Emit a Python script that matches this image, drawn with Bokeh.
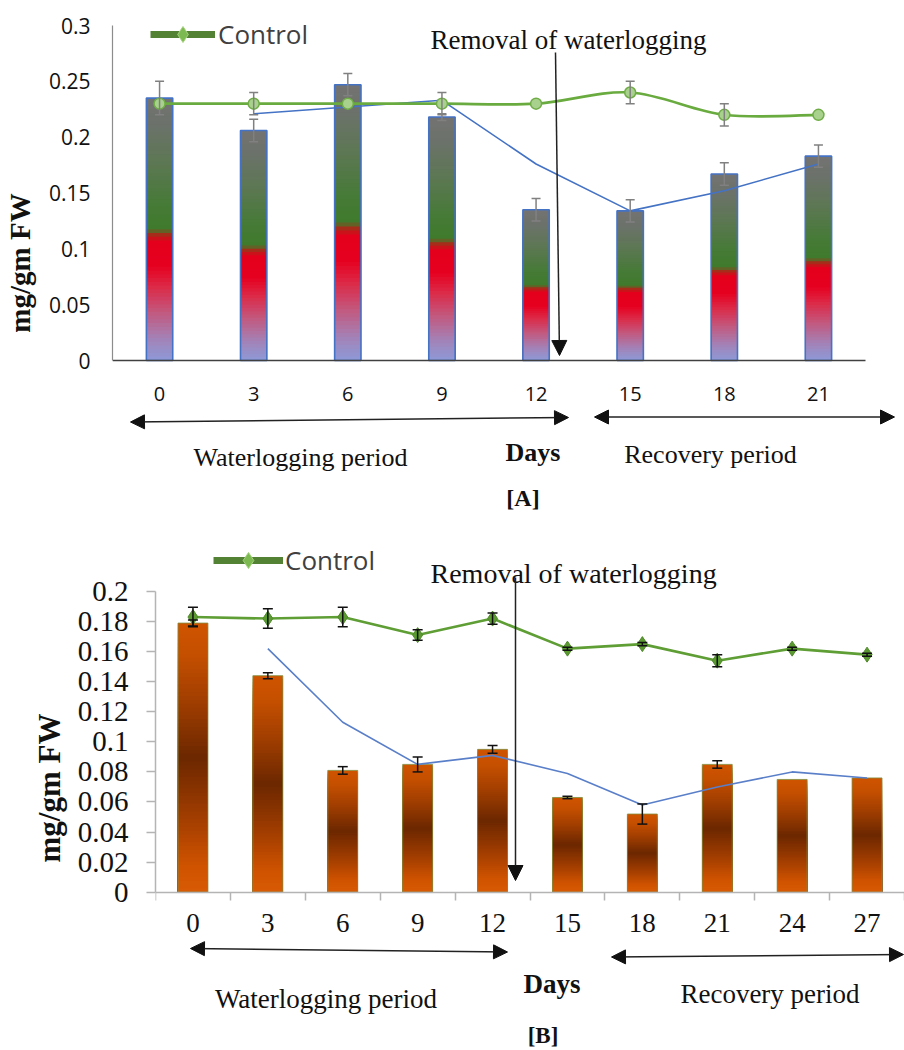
from bokeh.plotting import figure
from bokeh.models import (Range1d, FixedTicker, Label, Arrow, NormalHead, TeeHead, Whisker,
                          ColumnDataSource, Legend, LegendItem)
from bokeh.embed import file_html
from bokeh.resources import INLINE

# ---------------- Panel A data ----------------
days_a = ["0", "3", "6", "9", "12", "15", "18", "21"]
waterlogged_a = [0.235, 0.206, 0.247, 0.218, 0.135, 0.134, 0.167, 0.183]
waterlogged_a_err = [0.015, 0.010, 0.010, 0.003, 0.010, 0.010, 0.010, 0.010]
control_a = [0.230, 0.230, 0.230, 0.230, 0.230, 0.240, 0.220, 0.220]
control_a_err = [0.0, 0.010, 0.0, 0.010, 0.0, 0.010, 0.010, 0.0]
trend_a = [None, 0.221, 0.227, 0.233, 0.176, 0.134, 0.152, 0.176]
yticks_a = [0, 0.05, 0.1, 0.15, 0.2, 0.25, 0.3]
ytick_labels_a = ["0", "0.05", "0.1", "0.15", "0.2", "0.25", "0.3"]

# ---------------- Panel B data ----------------
days_b = ["0", "3", "6", "9", "12", "15", "18", "21", "24", "27"]
waterlogged_b = [0.179, 0.144, 0.081, 0.085, 0.095, 0.063, 0.052, 0.085, 0.075, 0.076]
waterlogged_b_err = [0.002, 0.002, 0.0025, 0.005, 0.0025, 0.0008, 0.0067, 0.0025, 0.0, 0.0]
control_b = [0.183, 0.182, 0.183, 0.171, 0.182, 0.162, 0.165, 0.154, 0.162, 0.158]
control_b_err = [0.0065, 0.0065, 0.0065, 0.0035, 0.0037, 0.001, 0.001, 0.004, 0.001, 0.001]
trend_b = [None, 0.162, 0.113, 0.085, 0.091, 0.079, 0.058, 0.070, 0.080, 0.076]
yticks_b = [0, 0.02, 0.04, 0.06, 0.08, 0.1, 0.12, 0.14, 0.16, 0.18, 0.2]
ytick_labels_b = ["0", "0.02", "0.04", "0.06", "0.08", "0.1", "0.12", "0.14", "0.16", "0.18", "0.2"]

SERIF = "Liberation Serif"
SANS = "Open Sans"
INK = "#111111"
NAN = float("nan")


def hex2rgb(h):
    return tuple(int(h[i:i + 2], 16) for i in (1, 3, 5))


def grad_color(stops, f):
    for (f0, c0), (f1, c1) in zip(stops, stops[1:]):
        if f <= f1:
            t = (f - f0) / (f1 - f0) if f1 > f0 else 0.0
            a, b = hex2rgb(c0), hex2rgb(c1)
            return "#%02x%02x%02x" % tuple(round(a[i] + (b[i] - a[i]) * t) for i in range(3))
    return stops[-1][1]


def gradient_bars(p, xs, vals, width, stops, n=70):
    # overlapping bars drawn from tallest fraction down -> seamless vertical gradient
    x, top, color = [], [], []
    for k in range(n - 1, -1, -1):
        f1 = (k + 1) / n
        for xi, v in zip(xs, vals):
            x.append(xi)
            top.append(v * f1)
            color.append(grad_color(stops, (k + 0.5) / n))
    p.vbar(x=x, bottom=0, top=top, width=width, fill_color=color, line_color=None)


def smooth_curve(xs, ys):
    d = dict(x0=[], y0=[], x1=[], y1=[], cx0=[], cy0=[], cx1=[], cy1=[])
    n = len(xs)
    for i in range(n - 1):
        xp, yp = (xs[i - 1], ys[i - 1]) if i > 0 else (xs[i], ys[i])
        xq, yq = (xs[i + 2], ys[i + 2]) if i + 2 < n else (xs[i + 1], ys[i + 1])
        d["x0"].append(xs[i]); d["y0"].append(ys[i])
        d["x1"].append(xs[i + 1]); d["y1"].append(ys[i + 1])
        d["cx0"].append(xs[i] + (xs[i + 1] - xp) / 6)
        d["cy0"].append(ys[i] + (ys[i + 1] - yp) / 6)
        d["cx1"].append(xs[i + 1] - (xq - xs[i]) / 6)
        d["cy1"].append(ys[i + 1] - (yq - ys[i]) / 6)
    return d


def whiskers(p, xs, vals, errs, color, head):
    pts = [(x, v, e) for x, v, e in zip(xs, vals, errs) if e > 0]
    src = ColumnDataSource(dict(x=[q[0] for q in pts],
                                upper=[q[1] + q[2] for q in pts],
                                lower=[q[1] - q[2] for q in pts]))
    w = Whisker(source=src, base="x", upper="upper", lower="lower", dimension="height",
                line_color=color, line_width=1.5, level="overlay",
                upper_head=TeeHead(size=head, line_color=color, line_width=1.5),
                lower_head=TeeHead(size=head, line_color=color, line_width=1.5))
    p.add_layout(w)


def text(p, s, x, y, size, fl, fb, bold=False, font=SERIF, align="center",
         baseline="middle"):
    p.add_layout(Label(x=x - fl, y=fb - y, x_units="screen", y_units="screen", text=s,
                       text_font=font, text_font_size=f"{size}px",
                       text_font_style="bold" if bold else "normal",
                       text_color=INK, text_align=align, text_baseline=baseline))


def head(size):
    return NormalHead(size=size, fill_color=INK, line_color=INK, line_width=1)


def arrow(p, x0, y0, x1, y1, fl, fb, both=False, size=14):
    p.add_layout(Arrow(x_start=x0 - fl, y_start=fb - y0, x_end=x1 - fl, y_end=fb - y1,
                       start_units="screen", end_units="screen",
                       start=head(size) if both else None, end=head(size),
                       line_color="#222222", line_width=1.5))


def legend(p, xs, loc, glyph_w, standoff):
    # legend-only renderers: real x positions, no visible y values
    blank = [NAN] * len(xs)
    ln = p.line(xs, blank, line_color="#548235", line_width=7)
    mk = p.scatter(xs, blank, marker="diamond", size=18, fill_color="#7cb950",
                   line_color="#a5d27f", line_width=1)
    p.add_layout(Legend(items=[LegendItem(label="Control", renderers=[ln, mk])],
                        location=loc, glyph_width=glyph_w, glyph_height=40,
                        label_standoff=standoff, padding=0, margin=0,
                        border_line_color=None, background_fill_alpha=0,
                        label_text_font=SANS, label_text_font_size="26px",
                        label_text_color="#404040"))


def style_common(p):
    p.grid.visible = False
    p.outline_line_color = None


# =============== Panel A =================
A_W, A_H = 904, 525
A_LEFT = 112               # y-axis position
A_ZERO, A_TOP = 360, 25    # pixel rows of y=0 and y=yticks_a[-1]
A_RIGHT = 865              # end of category axis
xa = list(range(len(days_a)))
a_cat = (A_RIGHT - A_LEFT) / len(days_a)
a_ppu = (A_ZERO - A_TOP) / yticks_a[-1]
pa = figure(width=A_W, height=A_H,
            x_range=Range1d(-0.5, -0.5 + (A_W - A_LEFT) / a_cat),
            y_range=Range1d(-(A_H - A_ZERO) / a_ppu, yticks_a[-1] + A_TOP / a_ppu),
            output_backend="svg", toolbar_location=None,
            min_border_left=A_LEFT, min_border_right=0, min_border_top=0,
            min_border_bottom=0)
style_common(pa)

stops_a = [(0.0, "#8d9ad8"), (0.08, "#a283b8"), (0.18, "#c25a80"), (0.28, "#dc2a48"),
           (0.36, "#e60020"), (0.45, "#e4001c"), (0.475, "#b82018"), (0.50, "#3f7b2c"),
           (0.60, "#477a38"), (0.75, "#5c7753"), (0.90, "#6c726a"), (1.0, "#737373")]
gradient_bars(pa, xa, waterlogged_a, 0.28, stops_a)
pa.vbar(x=xa, top=waterlogged_a, width=0.28, fill_color=None, line_color="#4472c4",
        line_width=1.6)
whiskers(pa, xa, waterlogged_a, waterlogged_a_err, "#808080", 9)

ta = [(x, v) for x, v in zip(xa, trend_a) if v is not None]
pa.line([q[0] for q in ta], [q[1] for q in ta], line_color="#4472c4", line_width=1.6)

pa.bezier(source=ColumnDataSource(smooth_curve(xa, control_a)), x0="x0", y0="y0", x1="x1",
          y1="y1", cx0="cx0", cy0="cy0", cx1="cx1", cy1="cy1",
          line_color="#6aab3f", line_width=2.6)
whiskers(pa, xa, control_a, control_a_err, "#808080", 9)
pa.scatter(xa, control_a, marker="circle", size=11, fill_color="#a9d18e",
           line_color="#70ad47", line_width=1.5)

legend(pa, xa, (38, 471), 65, 3)

pa.xaxis.fixed_location = 0
pa.xaxis.bounds = (-0.5, len(days_a) - 0.5)
pa.xaxis.ticker = FixedTicker(ticks=xa)
pa.xaxis.major_label_overrides = {i: d for i, d in zip(xa, days_a)}
pa.xaxis.axis_line_color = "#404040"
pa.xaxis.axis_line_width = 1.6
pa.xaxis.major_tick_line_color = None
pa.xaxis.minor_tick_line_color = None
pa.xaxis.major_tick_out = 0
pa.xaxis.major_label_standoff = 26
pa.xaxis.major_label_text_font = SANS
pa.xaxis.major_label_text_font_size = "20px"
pa.xaxis.major_label_text_color = INK

pa.yaxis.bounds = (yticks_a[0], yticks_a[-1])
pa.yaxis.ticker = FixedTicker(ticks=yticks_a)
pa.yaxis.major_label_overrides = {v: s for v, s in zip(yticks_a, ytick_labels_a)}
pa.yaxis.axis_line_color = "#8c8c8c"
pa.yaxis.axis_line_width = 1.2
pa.yaxis.major_tick_line_color = None
pa.yaxis.minor_tick_line_color = None
pa.yaxis.major_tick_out = 0
pa.yaxis.major_label_standoff = 22
pa.yaxis.major_label_text_font = SANS
pa.yaxis.major_label_text_font_size = "21px"
pa.yaxis.major_label_text_color = INK
pa.yaxis.axis_label = "mg/gm FW"
pa.yaxis.axis_label_text_font = SERIF
pa.yaxis.axis_label_text_font_style = "bold"
pa.yaxis.axis_label_text_font_size = "29px"
pa.yaxis.axis_label_text_color = INK
pa.yaxis.axis_label_standoff = 10

FA = dict(fl=A_LEFT, fb=A_H)
text(pa, "Removal of waterlogging", 430, 39.5, 27, align="left", baseline="alphabetic", **FA)
arrow(pa, 555, 52, 559, 355, size=15, **FA)
arrow(pa, 130, 421.5, 568, 417, both=True, **FA)
arrow(pa, 594, 416.5, 894, 416.5, both=True, **FA)
text(pa, "Days", 532.5, 451.5, 26, bold=True, baseline="alphabetic", **FA)
text(pa, "Waterlogging period", 300, 456.5, 26, **FA)
text(pa, "Recovery period", 710, 454, 26, **FA)
text(pa, "[A]", 522.5, 497, 24, bold=True, **FA)

# =============== Panel B =================
B_W, B_H = 904, 525
B_LEFT = 155
B_ZERO, B_TOP = 366.7, 66   # rows (inside this figure) of y=0 and y=yticks_b[-1]
xb = list(range(len(days_b)))
b_cat = (B_W - B_LEFT) / len(days_b)
b_ppu = (B_ZERO - B_TOP) / yticks_b[-1]
pb = figure(width=B_W, height=B_H,
            x_range=Range1d(-0.5, -0.5 + (B_W - B_LEFT) / b_cat),
            y_range=Range1d(-(B_H - B_ZERO) / b_ppu, yticks_b[-1] + B_TOP / b_ppu),
            output_backend="svg", toolbar_location=None,
            min_border_left=B_LEFT, min_border_right=0, min_border_top=0,
            min_border_bottom=0)
style_common(pb)

stops_b = [(0.0, "#d85a04"), (0.1, "#cf5300"), (0.25, "#a84000"), (0.5, "#6c2700"),
           (0.7, "#9e3d00"), (0.88, "#c44f00"), (1.0, "#d05400")]
gradient_bars(pb, xb, waterlogged_b, 0.4, stops_b)
pb.vbar(x=xb, top=waterlogged_b, width=0.4, fill_color=None, line_color="#7f8f3f",
        line_width=1, line_alpha=0.8)
whiskers(pb, xb, waterlogged_b, waterlogged_b_err, INK, 10)

tb = [(x, v) for x, v in zip(xb, trend_b) if v is not None]
pb.line([q[0] for q in tb], [q[1] for q in tb], line_color="#5a7fc9", line_width=1.6)

pb.line(xb, control_b, line_color="#5e9e34", line_width=2.6)
whiskers(pb, xb, control_b, control_b_err, INK, 10)
pb.scatter(xb, control_b, marker="diamond", size=15, fill_color="#5a9a30",
           line_color="#4f8a2a", line_width=1)

legend(pb, xb, (58, 470), 70, 2)

pb.xaxis.fixed_location = 0
pb.xaxis.bounds = (-0.5, len(days_b) - 0.5)
pb.xaxis.ticker = FixedTicker(ticks=xb, minor_ticks=[x - 0.5 for x in xb] + [xb[-1] + 0.5])
pb.xaxis.major_label_overrides = {i: d for i, d in zip(xb, days_b)}
pb.xaxis.axis_line_color = "#b4b4b4"
pb.xaxis.axis_line_width = 1.5
pb.xaxis.major_tick_line_color = None
pb.xaxis.major_tick_out = 8
pb.xaxis.minor_tick_line_color = "#b4b4b4"
pb.xaxis.minor_tick_line_width = 1.5
pb.xaxis.minor_tick_out = 8
pb.xaxis.minor_tick_in = 0
pb.xaxis.major_label_standoff = 14
pb.xaxis.major_label_text_font = SERIF
pb.xaxis.major_label_text_font_size = "27px"
pb.xaxis.major_label_text_color = INK

pb.yaxis.bounds = (yticks_b[0], yticks_b[-1])
pb.yaxis.ticker = FixedTicker(ticks=yticks_b)
pb.yaxis.major_label_overrides = {v: s for v, s in zip(yticks_b, ytick_labels_b)}
pb.yaxis.axis_line_color = "#b4b4b4"
pb.yaxis.axis_line_width = 1.5
pb.yaxis.major_tick_line_color = "#b4b4b4"
pb.yaxis.major_tick_line_width = 1.5
pb.yaxis.major_tick_out = 9
pb.yaxis.major_tick_in = 0
pb.yaxis.minor_tick_line_color = None
pb.yaxis.major_label_standoff = 18
pb.yaxis.major_label_text_font = SERIF
pb.yaxis.major_label_text_font_size = "29px"
pb.yaxis.major_label_text_color = INK
pb.yaxis.axis_label = "mg/gm FW"
pb.yaxis.axis_label_text_font = SERIF
pb.yaxis.axis_label_text_font_style = "bold"
pb.yaxis.axis_label_text_font_size = "31px"
pb.yaxis.axis_label_text_color = INK
pb.yaxis.axis_label_standoff = 8

OFF = 525  # page row where panel B starts
FB = dict(fl=B_LEFT, fb=B_H)
text(pb, "Removal of waterlogging", 430, 573 - OFF, 28, align="left", baseline="alphabetic",
     **FB)
arrow(pb, 515, 577 - OFF, 515, 880 - OFF, size=15, **FB)
arrow(pb, 190, 948 - OFF, 507, 951.5 - OFF, both=True, **FB)
arrow(pb, 611, 956.5 - OFF, 903, 954 - OFF, both=True, **FB)
text(pb, "Days", 551.5, 983 - OFF, 27, bold=True, baseline="alphabetic", **FB)
text(pb, "Waterlogging period", 325.5, 998 - OFF, 27, **FB)
text(pb, "Recovery period", 769.5, 993 - OFF, 27, **FB)
text(pb, "[B]", 542.5, 1035 - OFF, 23, bold=True, **FB)

open("out.html", "w").write(file_html([pa, pb], INLINE))
